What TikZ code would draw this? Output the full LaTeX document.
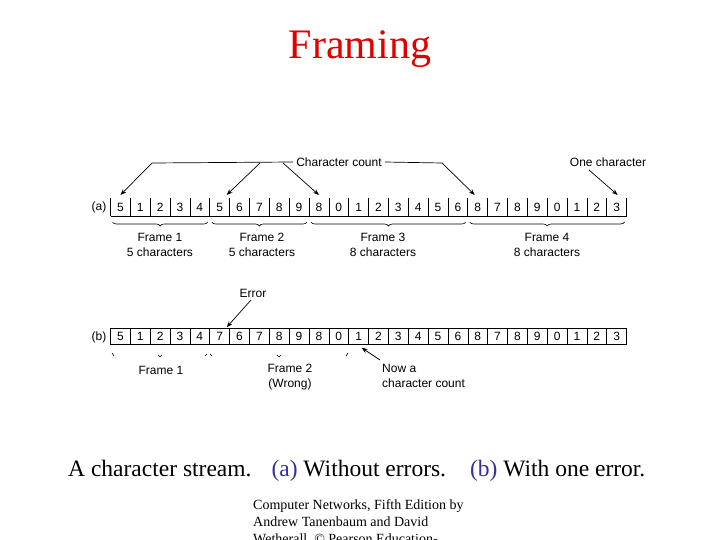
\documentclass[tikz,border=0pt]{standalone}
\usepackage{fontspec}
\setmainfont{Liberation Serif}
\newfontfamily\diag{Liberation Sans}
\usetikzlibrary{arrows.meta,decorations.pathreplacing,calc}
\definecolor{titlered}{RGB}{224,0,0}
\definecolor{capblue}{RGB}{51,51,153}
\begin{document}
\begin{tikzpicture}[x=1pt,y=-1pt,
  cell/.style={minimum width=19.85pt, minimum height=18pt, inner sep=0pt, outer sep=0pt, font=\diag\fontsize{12}{12}\selectfont},
  bcell/.style={cell, minimum height=16.5pt, draw, line width=0.6pt},
  lbl/.style={font=\diag\fontsize{12}{15}\selectfont, inner sep=0pt, align=center},
  arr/.style={-{Stealth[length=6pt,width=4.5pt]}, line width=0.7pt},
  thin line/.style={line width=0.7pt},
  br/.style={decorate, decoration={brace,mirror,amplitude=4pt}, line width=0.6pt}]
\useasboundingbox (0,0) rectangle (720,540);
% title
\node[font=\fontsize{42}{42}\selectfont, text=titlered] (title) at (360,49) {Framing};
% row (a)
\node[lbl] (la) at (99,207) {(a)};
\foreach \d [count=\i] in {5,1,2,3,4,5,6,7,8,9,8,0,1,2,3,4,5,6,8,7,8,9,0,1,2,3}
  \node[cell] (a\i) at ({110.5+(\i-0.5)*19.85},207) {\d};
\draw[thin line] (a1.south west) -- (a26.south east);
\foreach \i in {1,...,26} \draw[thin line] (a\i.north west) -- (a\i.south west);
\draw[thin line] (a26.north east) -- (a26.south east);
% braces (a)
\draw[br] ($(a1.south west)+(2,6)$) -- ($(a5.south east)+(-2,6)$);
\draw[br] ($(a6.south west)+(2,6)$) -- ($(a10.south east)+(-2,6)$);
\draw[br] ($(a11.south west)+(2,6)$) -- ($(a18.south east)+(-2,6)$);
\draw[br] ($(a19.south west)+(2,6)$) -- ($(a26.south east)+(-2,6)$);
\node[lbl] (f1) at (160,244.5) {Frame 1\\5 characters};
\node[lbl] (f2) at (262,244.5) {Frame 2\\5 characters};
\node[lbl] (f3) at (383,244.5) {Frame 3\\8 characters};
\node[lbl] (f4) at (547,244.5) {Frame 4\\8 characters};
% character count arrows
\node[lbl, fill=white, inner xsep=3pt] (cc) at (339,162) {Character count};
\coordinate (ccl) at (152,163);
\coordinate (ccr) at (442,163);
\coordinate (c2) at (260,163);
\coordinate (c3) at (283,163);
\draw[thin line] (cc.west) -- (ccl);
\draw[thin line] (cc.east) -- (ccr);
\draw[arr] (ccl) -- ($(a1.north)+(0,-3)$);
\draw[arr] (c2) -- ($(a6.north)+(7,-3)$);
\draw[arr] (c3) -- ($(a11.north)+(0,-3)$);
\draw[arr] (ccr) -- ($(a19.north)+(-3,-3)$);
\node[lbl] (oc) at (608,162) {One character};
\coordinate (ocs) at (589,170);
\draw[arr] (ocs) -- ($(a26.north)+(1,-3)$);
% row (b)
\node[lbl] (lb) at (99,337) {(b)};
\foreach \d [count=\i] in {5,1,2,3,4,7,6,7,8,9,8,0,1,2,3,4,5,6,8,7,8,9,0,1,2,3}
  \node[bcell] (b\i) at ({110.5+(\i-0.5)*19.85},336.5) {\d};
% faint brace remnants (b)
\draw[line width=0.6pt] (112,353) -- (114,356);
\draw[line width=0.6pt] (158,355) -- (160,357) -- (162,355);
\draw[line width=0.6pt] (205,356) -- (207,354);
\draw[line width=0.6pt] (210,354) -- (212,356);
\draw[line width=0.6pt] (277,355) -- (279,357) -- (281,355);
\draw[line width=0.6pt] (346,356) -- (348,353);
\node[lbl] (g1) at (161,370) {Frame 1};
\node[lbl] (g2) at (290,377) {Frame 2\\(Wrong)};
% error arrow
\node[lbl] (err) at (253,293) {Error};
\coordinate (errs) at (251,300);
\draw[arr] (errs) -- ($(b6.north)+(7,-1)$);
% now a character count
\node[lbl, align=left, anchor=north west] (now) at (382,364) {Now a\\character count};
\coordinate (nows) at (380,360);
\draw[arr] (nows) -- ($(b13.south)+(3,3)$);
% caption
\node[anchor=base west, inner sep=0pt, font=\fontsize{23.5}{23.5}\selectfont] (cap) at (68,476)
  {A character stream.\hspace{20pt}{\color{capblue}(a)} Without errors.\hspace{24pt}{\color{capblue}(b)} With one error.};
% footer
\node[anchor=north west, inner sep=0pt, align=left, font=\fontsize{14}{17}\selectfont] (foot) at (253,499)
  {Computer Networks, Fifth Edition by\\Andrew Tanenbaum and David\\Wetherall, \textcopyright{} Pearson Education-};
\end{tikzpicture}
\end{document}
